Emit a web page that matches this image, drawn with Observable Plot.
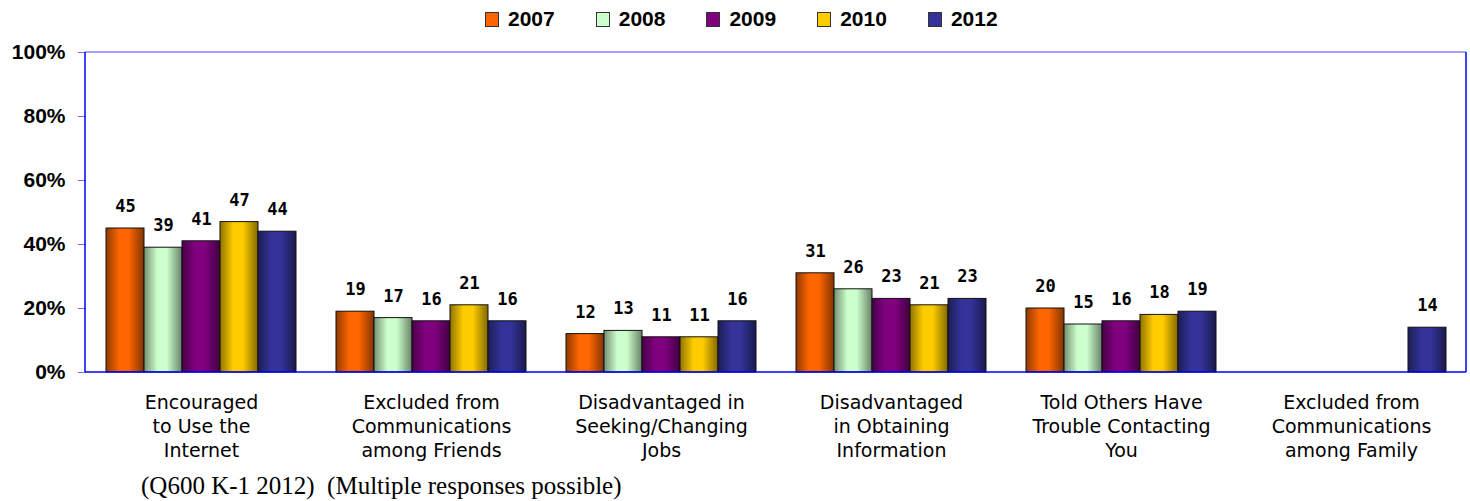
<!DOCTYPE html>
<html>
<head>
<meta charset="utf-8">
<script src="https://cdn.jsdelivr.net/npm/d3@7"></script>
<script src="https://cdn.jsdelivr.net/npm/@observablehq/plot@0.6"></script>
<style>
  html, body { margin: 0; padding: 0; background: #fff; }
  body { width: 1470px; height: 501px; position: relative; overflow: hidden; }
  #legend { position: absolute; left: 485px; top: 0; height: 38px; display: flex; align-items: center;
            font-family: "Liberation Sans", Arial, sans-serif; font-weight: bold; font-size: 21px; color: #000; }
  #legend .item { display: flex; align-items: center; margin-right: 41px; }
  #legend .sw { width: 12px; height: 13px; border: 1px solid #333; margin-right: 9px; }
  #chart { position: absolute; left: 0; top: 38px; }
  #caption { position: absolute; left: 141px; top: 473px; font-family: "Liberation Serif", "Times New Roman", serif;
             font-size: 25px; line-height: 1; color: #000; white-space: pre; }
</style>
</head>
<body>
<div id="legend"></div>
<div id="chart"></div>
<div id="caption">(Q600 K-1 2012)  (Multiple responses possible)</div>
<script>
const categories = [
  "Encouraged\nto Use the\nInternet",
  "Excluded from\nCommunications\namong Friends",
  "Disadvantaged in\nSeeking/Changing\nJobs",
  "Disadvantaged\nin Obtaining\nInformation",
  "Told Others Have\nTrouble Contacting\nYou",
  "Excluded from\nCommunications\namong Family"
];
const years = ["2007", "2008", "2009", "2010", "2012"];
const v2007 = [45, 19, 12, 31, 20, null];
const v2008 = [39, 17, 13, 26, 15, null];
const v2009 = [41, 16, 11, 23, 16, null];
const v2010 = [47, 21, 11, 21, 18, null];
const v2012 = [44, 16, 16, 23, 19, 14];
const yTicks = [0, 20, 40, 60, 80, 100];
const colors = {"2007": "#ff6600", "2008": "#ccffcc", "2009": "#800080", "2010": "#ffcc00", "2012": "#333399"};

const series = {"2007": v2007, "2008": v2008, "2009": v2009, "2010": v2010, "2012": v2012};
const data = [];
categories.forEach((c, i) => {
  years.forEach(y => {
    const v = series[y][i];
    if (v != null) data.push({cat: c, year: y, value: v});
  });
});

// legend
const legend = document.getElementById("legend");
years.forEach(y => {
  const it = document.createElement("div");
  it.className = "item";
  const sw = document.createElement("div");
  sw.className = "sw";
  sw.style.background = colors[y];
  it.appendChild(sw);
  const t = document.createElement("span");
  t.textContent = y;
  it.appendChild(t);
  legend.appendChild(it);
});

const W = 1470, H = 430, mL = 85, mR = 4, mT = 14, mB = 96;

const plot = Plot.plot({
  width: W, height: H,
  marginTop: mT, marginBottom: mB, marginLeft: mL, marginRight: mR,
  fx: {domain: categories, padding: 0, label: null},
  x: {domain: years, paddingInner: 0, paddingOuter: 0.5, axis: null},
  y: {domain: [0, 100], label: null},
  color: {type: "identity"},
  style: {background: "#fff", overflow: "visible"},
  marks: [
    Plot.barY(data, {fx: "cat", x: "year", y: "value", fill: d => `url(#grad${d.year})`, stroke: "#111", strokeWidth: 1}),
    Plot.text(data, {fx: "cat", x: "year", y: "value", text: d => String(d.value), dy: -22,
      fontFamily: "'DejaVu Sans Mono', monospace", fontWeight: "bold", fontSize: 17, fill: "#000"}),
    Plot.axisY({ticks: yTicks, tickFormat: d => d + "%", tickSize: 8, tickPadding: 13, stroke: "#7070ff",
      fontFamily: "'Liberation Sans', Arial, sans-serif", fontWeight: "bold", fontSize: 21, fill: "#000", label: null}),
    Plot.axisFx({anchor: "bottom", tickSize: 0, tickPadding: 20, label: null, lineHeight: 1.25,
      fontFamily: "'DejaVu Sans', Verdana, sans-serif", fontSize: 19, fill: "#000"})
  ]
});

// gradients
const svg = d3.select(plot);
const defs = svg.insert("defs", ":first-child");
years.forEach(y => {
  const base = d3.rgb(colors[y]);
  const g = defs.append("linearGradient").attr("id", "grad" + y).attr("x1", "0%").attr("x2", "100%").attr("y1", "0%").attr("y2", "0%");
  g.append("stop").attr("offset", "0%").attr("stop-color", base.darker(1.6).toString());
  g.append("stop").attr("offset", "35%").attr("stop-color", base.toString());
  g.append("stop").attr("offset", "60%").attr("stop-color", base.toString());
  g.append("stop").attr("offset", "100%").attr("stop-color", base.darker(1.9).toString());
});

// plot frame
const ys = plot.scale("y");
const y0 = ys.apply(0), y1 = ys.apply(100);
const frame = svg.append("g").attr("aria-label", "frame").attr("fill", "none");
frame.append("line").attr("x1", mL).attr("x2", W - mR).attr("y1", y1).attr("y2", y1).attr("stroke", "#8080ff").attr("stroke-width", 1.5);
frame.append("line").attr("x1", mL).attr("x2", mL).attr("y1", y1).attr("y2", y0).attr("stroke", "#0000ff").attr("stroke-width", 1.5);
frame.append("line").attr("x1", W - mR).attr("x2", W - mR).attr("y1", y1).attr("y2", y0).attr("stroke", "#0000ff").attr("stroke-width", 1.5);
frame.append("line").attr("x1", mL).attr("x2", W - mR).attr("y1", y0).attr("y2", y0).attr("stroke", "#0000ff").attr("stroke-width", 1.5);

document.getElementById("chart").appendChild(plot);
</script>
</body>
</html>
